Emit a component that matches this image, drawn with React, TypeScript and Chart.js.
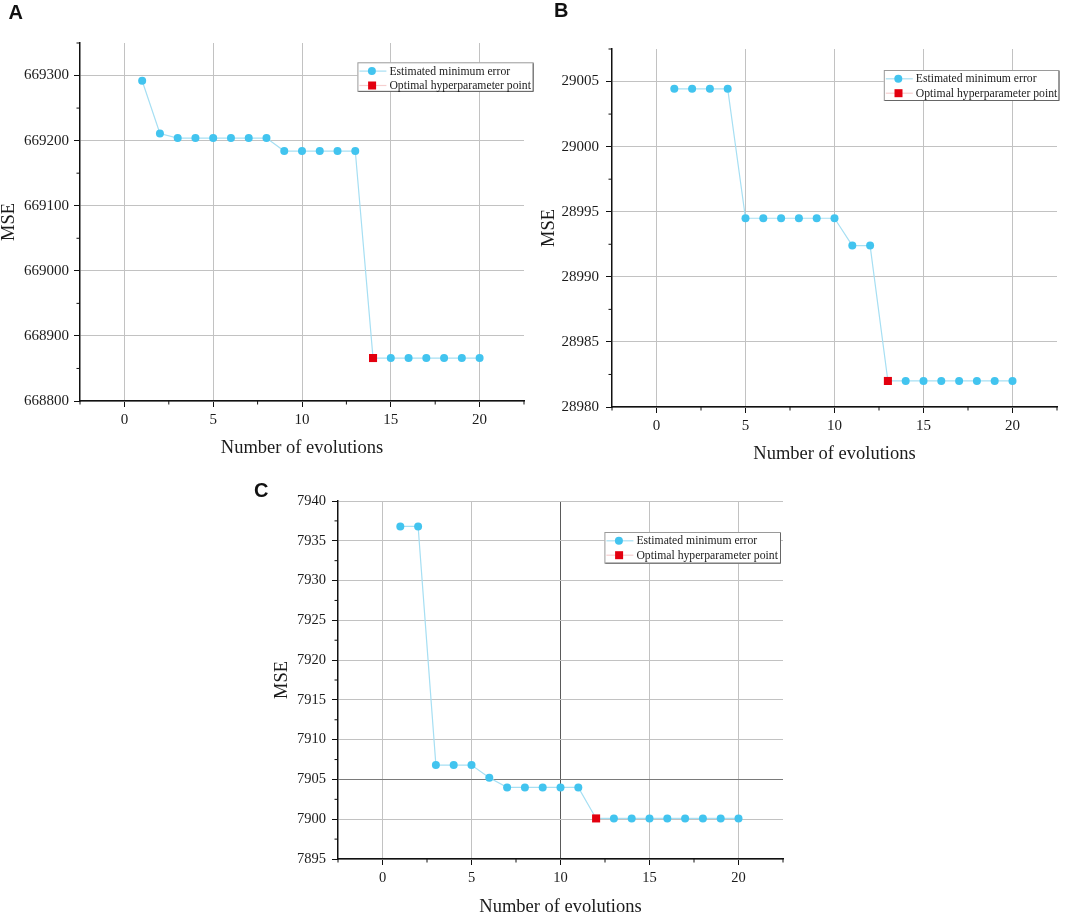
import React, { useEffect, useRef } from "react";
import { Chart, registerables } from "chart.js";

Chart.register(...registerables);

// ---------------- data ----------------
const EVOLUTIONS = [1, 2, 3, 4, 5, 6, 7, 8, 9, 10, 11, 12, 13, 14, 15, 16, 17, 18, 19, 20];

const MSE_A = [
  669292, 669211, 669204, 669204, 669204, 669204, 669204, 669204, 669184, 669184,
  669184, 669184, 669184, 668866, 668866, 668866, 668866, 668866, 668866, 668866,
];
const MSE_B = [
  29004.44, 29004.44, 29004.44, 29004.44, 28994.5, 28994.5, 28994.5, 28994.5, 28994.5, 28994.5,
  28992.4, 28992.4, 28982.0, 28982.0, 28982.0, 28982.0, 28982.0, 28982.0, 28982.0, 28982.0,
];
const MSE_C = [
  7936.8, 7936.8, 7906.8, 7906.8, 7906.8, 7905.2, 7904.0, 7904.0, 7904.0, 7904.0,
  7904.0, 7900.1, 7900.1, 7900.1, 7900.1, 7900.1, 7900.1, 7900.1, 7900.1, 7900.1,
];

const OPTIMAL_A = 14;
const OPTIMAL_B = 13;
const OPTIMAL_C = 12;

const X_RANGE = [-2.5, 22.5];
const X_TICKS = [0, 5, 10, 15, 20];
const Y_RANGE_A = [668800, 669350];
const Y_TICKS_A = [668800, 668900, 669000, 669100, 669200, 669300];
const Y_RANGE_B = [28980, 29007.5];
const Y_TICKS_B = [28980, 28985, 28990, 28995, 29000, 29005];
const Y_RANGE_C = [7895, 7940];
const Y_TICKS_C = [7895, 7900, 7905, 7910, 7915, 7920, 7925, 7930, 7935, 7940];

const PANEL_LETTERS = ["A", "B", "C"];
const LEGEND_LABELS = ["Estimated minimum error", "Optimal hyperparameter point"];
const X_TITLE = "Number of evolutions";
const Y_TITLE = "MSE";

// ---------------- styles ----------------
const SERIF = '"Liberation Serif", "Times New Roman", serif';
const LINE_COLOR = "#a6dff3";
const MARK_COLOR = "#42c4ef";
const RED = "#e3000f";
const GRID = "#c2c2c2";
const AXIS = "#111111";
const TEXT = "#1b1b1b";

type PanelCfg = {
  values: number[];
  optimal: number;
  yRange: number[];
  yTicks: number[];
  left: number;
  top: number;
  width: number;
  height: number;
  padTop: number;
  padRight: number;
  yAxisW: number;
  xAxisH: number;
  yTitlePad: number;
  xTitlePad: number;
  yTickPad: number;
  tickFont: number;
  legend: { x: number; y: number; w: number; h: number };
  darkX?: number[];
  darkY?: number[];
};

const PANELS: PanelCfg[] = [
  {
    values: MSE_A, optimal: OPTIMAL_A, yRange: Y_RANGE_A, yTicks: Y_TICKS_A,
    left: 0, top: 0, width: 540, height: 470,
    padTop: 43, padRight: 16, yAxisW: 80, xAxisH: 69,
    yTitlePad: 0, xTitlePad: 11, yTickPad: 5, tickFont: 15,
    legend: { x: 357.4, y: 62.3, w: 176.3, h: 29.6 },
  },
  {
    values: MSE_B, optimal: OPTIMAL_B, yRange: Y_RANGE_B, yTicks: Y_TICKS_B,
    left: 530, top: 0, width: 535, height: 476,
    padTop: 49, padRight: 8, yAxisW: 82, xAxisH: 69,
    yTitlePad: 10, xTitlePad: 11, yTickPad: 7, tickFont: 15,
    legend: { x: 353.8, y: 70, w: 175.7, h: 31 },
  },
  {
    values: MSE_C, optimal: OPTIMAL_C, yRange: Y_RANGE_C, yTicks: Y_TICKS_C,
    left: 258, top: 420, width: 540, height: 499,
    padTop: 81, padRight: 15, yAxisW: 80, xAxisH: 60,
    yTitlePad: 15, xTitlePad: 1, yTickPad: 6, tickFont: 14.5,
    legend: { x: 346.4, y: 112, w: 176.6, h: 31.7 },
    darkX: [10], darkY: [7905],
  },
];

const LETTER_POS = [
  { left: 8.6, top: 2.4 },
  { left: 554, top: 0.4 },
  { left: 254, top: 480.4 },
];

// ---------------- plugins ----------------
const minorTicksPlugin = {
  id: "minorTicks",
  afterDraw(chart: any) {
    const ctx = chart.ctx;
    ctx.save();
    ctx.strokeStyle = AXIS;
    ctx.lineWidth = 1;
    for (const id of ["x", "y"]) {
      const s = chart.scales[id];
      const ticks = s.ticks;
      if (!ticks || ticks.length < 2) continue;
      const step = ticks[1].value - ticks[0].value;
      const half = step / 2;
      for (let v = ticks[0].value - half; v <= s.max + 1e-9; v += step) {
        if (v < s.min - 1e-9) continue;
        const px = s.getPixelForValue(v);
        ctx.beginPath();
        if (id === "x") {
          ctx.moveTo(px, s.top);
          ctx.lineTo(px, s.top + 3.5);
        } else {
          ctx.moveTo(s.right - 3.5, px);
          ctx.lineTo(s.right, px);
        }
        ctx.stroke();
      }
    }
    ctx.restore();
  },
};

function makeLegendPlugin(box: { x: number; y: number; w: number; h: number }) {
  return {
    id: "boxLegend",
    afterDraw(chart: any) {
      const ctx = chart.ctx;
      const { x, y, w, h } = box;
      ctx.save();
      ctx.fillStyle = "#ffffff";
      ctx.fillRect(x, y, w, h);
      ctx.strokeStyle = "#9a9a9a";
      ctx.lineWidth = 1;
      ctx.strokeRect(x + 0.5, y + 0.5, w - 1, h - 1);
      ctx.strokeStyle = "#666666";
      ctx.beginPath();
      ctx.moveTo(x + w - 0.5, y + 1);
      ctx.lineTo(x + w - 0.5, y + h - 0.5);
      ctx.lineTo(x + 1, y + h - 0.5);
      ctx.stroke();

      const r1 = y + 8.8;
      const r2 = y + 23.2;
      ctx.strokeStyle = LINE_COLOR;
      ctx.lineWidth = 1.2;
      ctx.beginPath();
      ctx.moveTo(x + 2, r1);
      ctx.lineTo(x + 29, r1);
      ctx.stroke();
      ctx.fillStyle = MARK_COLOR;
      ctx.beginPath();
      ctx.arc(x + 14.5, r1, 4, 0, Math.PI * 2);
      ctx.fill();
      ctx.strokeStyle = "#f6cfcf";
      ctx.beginPath();
      ctx.moveTo(x + 2, r2);
      ctx.lineTo(x + 29, r2);
      ctx.stroke();
      ctx.fillStyle = RED;
      ctx.fillRect(x + 14.7 - 4, r2 - 4, 8, 8);

      ctx.fillStyle = TEXT;
      ctx.font = `11.7px ${SERIF}`;
      ctx.textBaseline = "middle";
      ctx.textAlign = "left";
      ctx.fillText(LEGEND_LABELS[0], x + 32, r1 + 0.5);
      ctx.fillText(LEGEND_LABELS[1], x + 32, r2 + 0.5);
      ctx.restore();
    },
  };
}

// ---------------- chart ----------------
function buildChart(canvas: HTMLCanvasElement, p: PanelCfg) {
  const optIdx = EVOLUTIONS.indexOf(p.optimal);
  const tickFont = { family: SERIF, size: p.tickFont };
  const titleFont = { family: SERIF, size: 18.5 };
  return new Chart(canvas, {
    type: "line",
    data: {
      datasets: [
        {
          label: LEGEND_LABELS[1],
          data: [{ x: p.optimal, y: p.values[optIdx] }],
          showLine: false,
          pointStyle: "rect",
          pointRadius: 5.7,
          pointBackgroundColor: RED,
          pointBorderColor: RED,
          pointBorderWidth: 0,
          order: 0,
        },
        {
          label: LEGEND_LABELS[0],
          data: EVOLUTIONS.map((x, i) => ({ x, y: p.values[i] })),
          borderColor: LINE_COLOR,
          borderWidth: 1.2,
          tension: 0,
          fill: false,
          pointStyle: "circle",
          pointRadius: (c: any) => (c.dataIndex === optIdx ? 0 : 4),
          pointBackgroundColor: MARK_COLOR,
          pointBorderColor: MARK_COLOR,
          pointBorderWidth: 0,
          order: 1,
        },
      ],
    } as any,
    options: {
      responsive: false,
      animation: false,
      events: [],
      layout: { padding: { top: p.padTop, right: p.padRight, left: 0, bottom: 0 } },
      plugins: { legend: { display: false }, tooltip: { enabled: false } },
      scales: {
        x: {
          type: "linear",
          min: X_RANGE[0],
          max: X_RANGE[1],
          afterBuildTicks: (s: any) => {
            s.ticks = X_TICKS.map((v) => ({ value: v }));
          },
          afterFit: (s: any) => {
            s.height = p.xAxisH;
          },
          ticks: {
            font: tickFont,
            color: TEXT,
            padding: 4,
            maxRotation: 0,
            autoSkip: false,
            callback: (v: any) => String(v),
          },
          grid: {
            color: (c: any) =>
              c.tick && p.darkX && p.darkX.includes(c.tick.value) ? "#5a5a5a" : GRID,
            lineWidth: 1,
            tickColor: AXIS,
            tickLength: 6,
            tickWidth: 1,
          },
          border: { color: AXIS, width: 1.5 },
          title: {
            display: true,
            text: X_TITLE,
            font: { ...titleFont, lineHeight: 1.2 },
            color: TEXT,
            padding: { top: 0, bottom: p.xTitlePad },
          },
        },
        y: {
          type: "linear",
          min: p.yRange[0],
          max: p.yRange[1],
          afterBuildTicks: (s: any) => {
            s.ticks = p.yTicks.map((v) => ({ value: v }));
          },
          afterFit: (s: any) => {
            s.width = p.yAxisW;
          },
          ticks: {
            font: tickFont,
            color: TEXT,
            padding: p.yTickPad,
            autoSkip: false,
            callback: (v: any) => String(v),
          },
          grid: {
            color: (c: any) =>
              c.tick && p.darkY && p.darkY.includes(c.tick.value) ? "#7a7a7a" : GRID,
            lineWidth: 1,
            tickColor: AXIS,
            tickLength: 6,
            tickWidth: 1,
          },
          border: { color: AXIS, width: 1.5 },
          title: {
            display: true,
            text: Y_TITLE,
            font: { ...titleFont, lineHeight: 1.0 },
            color: TEXT,
            padding: { top: p.yTitlePad, bottom: 0 },
          },
        },
      },
    } as any,
    plugins: [minorTicksPlugin, makeLegendPlugin(p.legend)],
  });
}

function Panel({ cfg }: { cfg: PanelCfg }) {
  const ref = useRef<HTMLCanvasElement | null>(null);
  useEffect(() => {
    if (!ref.current) return;
    const chart = buildChart(ref.current, cfg);
    return () => chart.destroy();
  }, [cfg]);
  return (
    <canvas
      ref={ref}
      width={cfg.width}
      height={cfg.height}
      style={{
        position: "absolute",
        left: cfg.left,
        top: cfg.top,
        width: cfg.width,
        height: cfg.height,
      }}
    />
  );
}

export default function App() {
  return (
    <div
      style={{
        position: "fixed",
        left: 0,
        top: 0,
        width: 1065,
        height: 919,
        background: "#ffffff",
        overflow: "hidden",
      }}
    >
      {PANELS.map((p, i) => (
        <Panel key={i} cfg={p} />
      ))}
      {PANEL_LETTERS.map((l, i) => (
        <div
          key={l}
          style={{
            position: "absolute",
            left: LETTER_POS[i].left,
            top: LETTER_POS[i].top,
            font: 'bold 20px "Liberation Sans", Arial, sans-serif',
            lineHeight: "20px",
            color: "#111",
          }}
        >
          {l}
        </div>
      ))}
    </div>
  );
}
